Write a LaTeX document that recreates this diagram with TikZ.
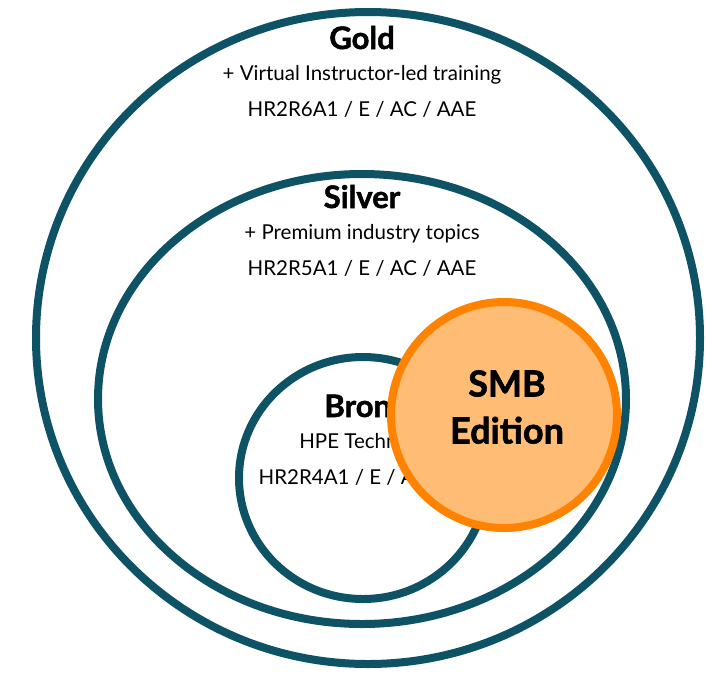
\documentclass[tikz,border=0pt]{standalone}
\usepackage{fontspec}
\setmainfont{Lato}[BoldFeatures={FakeBold=1.6}]
\usetikzlibrary{positioning}
\usetikzlibrary{shapes.geometric,shadows}

\definecolor{hpeteal}{RGB}{14,82,101}
\definecolor{smbedge}{RGB}{255,131,0}
\definecolor{smbfill}{RGB}{255,188,117}

\tikzset{
  tier/.style={ellipse, draw=hpeteal, line width=8pt, fill=white, inner sep=0pt,
               drop shadow={shadow xshift=1.5pt, shadow yshift=-2.5pt, opacity=0.25}},
  tiername/.style={font=\bfseries\fontsize{31}{32}\selectfont, inner sep=0pt,
                   text height=22pt, text depth=6pt},
  tierline/.style={font=\fontsize{20.5}{22}\selectfont, inner sep=0pt,
                   text height=14pt, text depth=4pt},
}

\begin{document}
\begin{tikzpicture}[x=1pt, y=-1pt, node distance=11pt]

        \useasboundingbox (0,0) rectangle (706,672);

        % rings
        \node (gold) [tier, minimum width=664pt, minimum height=652pt] at (368,338) {};
        \node (silver) [tier, minimum width=528pt, minimum height=450pt] at (362,399) {};
        \node (bronze) [tier, minimum width=248pt, minimum height=242pt] at (363,478) {};

        % gold
        \node (goldname) [tiername] at (362,41) {Gold};
        \node (goldplus) [tierline, below=of goldname] {+ Virtual Instructor-led training};
        \node (goldcode) [tierline, below=18pt of goldplus] {HR2R6A1 / E / AC / AAE};

        % silver
        \node (silvername) [tiername] at (362,200) {Silver};
        \node (silverplus) [tierline, below=of silvername] {+ Premium industry topics};
        \node (silvercode) [tierline, below=18pt of silverplus] {HR2R5A1 / E / AC / AAE};

        % bronze
        \node (bronzename) [tiername] at (373,409) {Bronze};
        \node (bronzeplus) [tierline, below=of bronzename] {HPE Technology};
        \node (bronzecode) [tierline, below=18pt of bronzeplus] {HR2R4A1 / E / AC / AAE};

        % smb
        \node (smb) [circle, draw=smbedge, line width=8pt, fill=smbfill,
                     minimum size=226pt, inner sep=0pt,
                     drop shadow={shadow xshift=1.5pt, shadow yshift=-2.5pt, opacity=0.3},
                     ] at (504,415) {};
        \node (smbtext) [align=center, inner sep=0pt,
                         font=\bfseries\fontsize{36}{47}\selectfont,
                         ] at (507,407) {SMB\\Edition};

    \end{tikzpicture}
\end{document}
